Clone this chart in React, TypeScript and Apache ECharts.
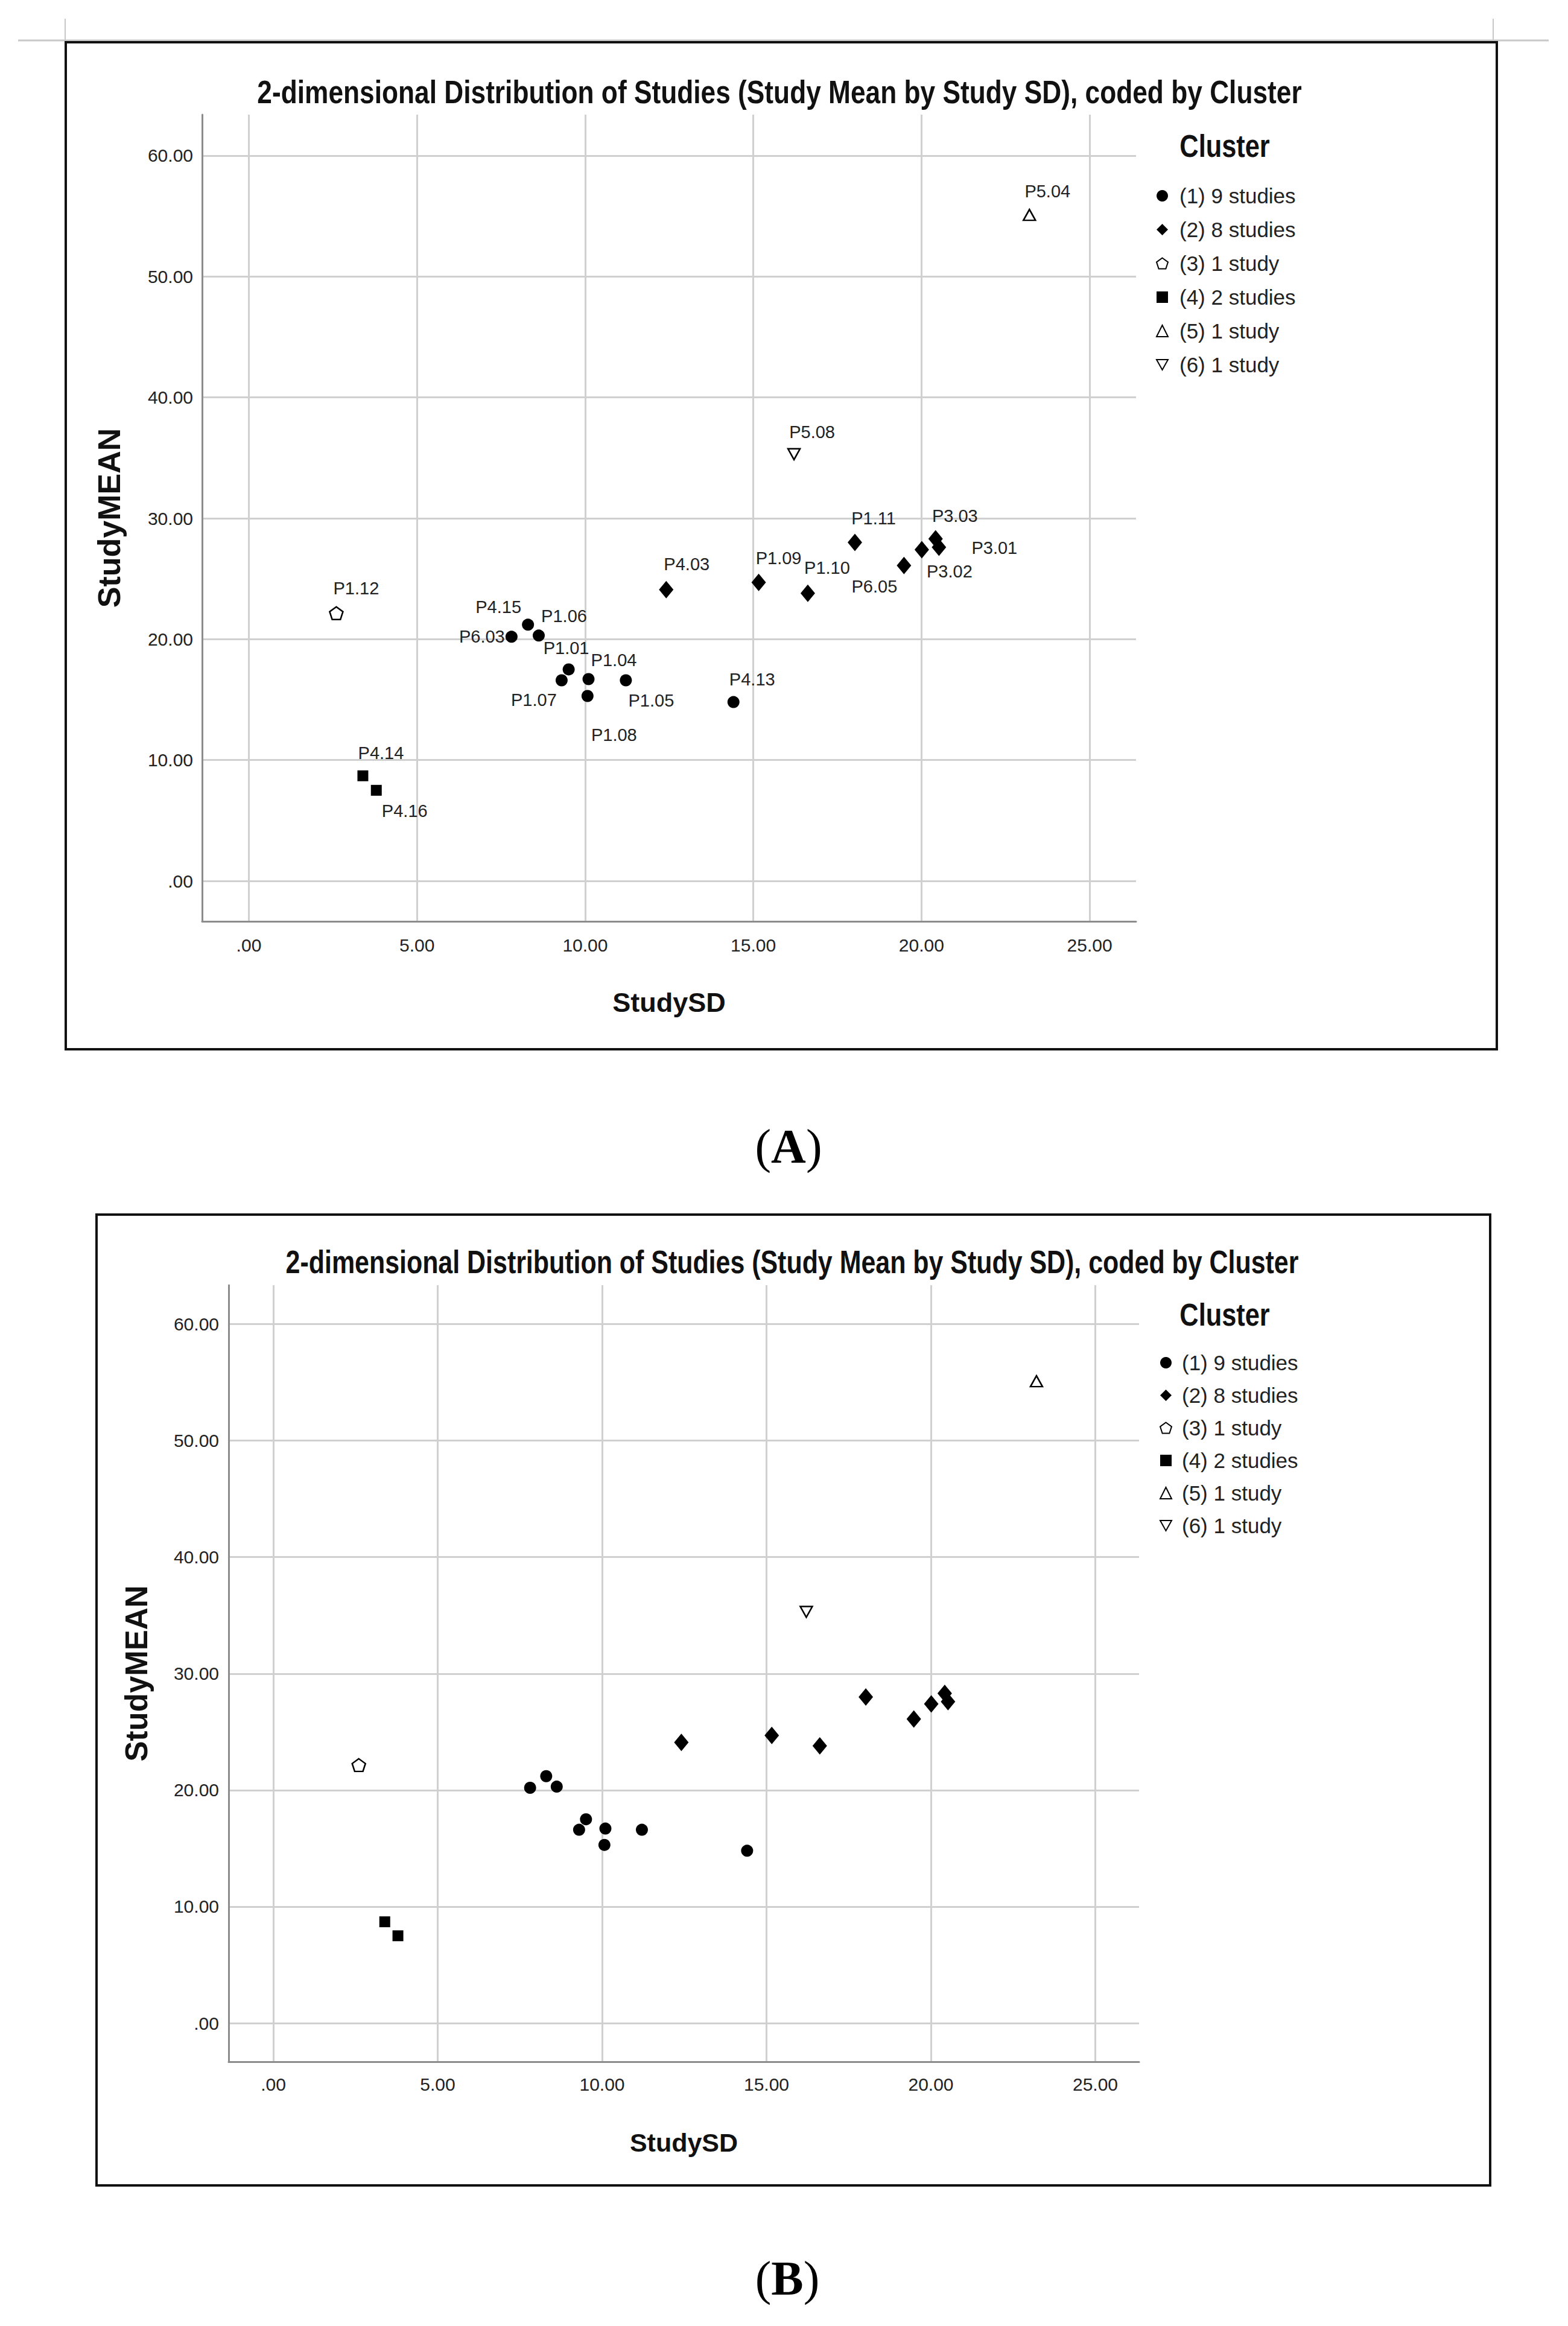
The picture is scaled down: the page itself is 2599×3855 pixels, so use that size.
import React, { useEffect, useRef } from 'react';
import * as echarts from 'echarts';

// ---------------- data ----------------
const clusterNames = ['(1) 9 studies', '(2) 8 studies', '(3) 1 study', '(4) 2 studies', '(5) 1 study', '(6) 1 study'];

const c1Ids = ['P1.01', 'P1.04', 'P1.05', 'P1.06', 'P1.07', 'P1.08', 'P4.13', 'P4.15', 'P6.03'];
const c1SD = [9.51, 10.1, 11.21, 8.62, 9.3, 10.07, 14.41, 8.3, 7.81];
const c1Mean = [17.5, 16.7, 16.6, 20.3, 16.6, 15.3, 14.8, 21.2, 20.2];

const c2Ids = ['P1.09', 'P1.10', 'P1.11', 'P3.01', 'P3.02', 'P3.03', 'P4.03', 'P6.05'];
const c2SD = [15.16, 16.62, 18.02, 20.52, 20.01, 20.42, 12.41, 19.48];
const c2Mean = [24.7, 23.8, 28.0, 27.6, 27.4, 28.3, 24.1, 26.1];

const c3Ids = ['P1.12'];
const c3SD = [2.6];
const c3Mean = [22.15];

const c4Ids = ['P4.14', 'P4.16'];
const c4SD = [3.39, 3.79];
const c4Mean = [8.7, 7.5];

const c5Ids = ['P5.04'];
const c5SD = [23.21];
const c5Mean = [55.1];

const c6Ids = ['P5.08'];
const c6SD = [16.21];
const c6Mean = [35.3];

const xTicks = [0, 5, 10, 15, 20, 25];
const yTicks = [0, 10, 20, 30, 40, 50, 60];

const titleText = '2-dimensional Distribution of Studies (Study Mean by Study SD), coded by Cluster';
const xName = 'StudySD';
const yName = 'StudyMEAN';
const legendTitle = 'Cluster';

// label placement (pixel offsets from point centre) - layout only
const labelOffsets: Record<string, [number, number]> = {
  'P1.01': [-4, -35], 'P1.04': [42, -31], 'P1.05': [42, 34], 'P1.06': [42, -32], 'P1.07': [-46, 33],
  'P1.08': [44, 64], 'P4.13': [31, -38], 'P4.15': [-49, -29], 'P6.03': [-49, 0],
  'P1.09': [33, -40], 'P1.10': [32, -42], 'P1.11': [31, -40], 'P3.01': [92, 1], 'P3.02': [46, 36],
  'P3.03': [32, -38], 'P4.03': [34, -42], 'P6.05': [-49, 35],
  'P1.12': [33, -41], 'P4.14': [30, -38], 'P4.16': [47, 34], 'P5.04': [30, -39], 'P5.08': [30, -37],
};

const clusters = [
  { ids: c1Ids, sd: c1SD, mean: c1Mean },
  { ids: c2Ids, sd: c2SD, mean: c2Mean },
  { ids: c3Ids, sd: c3SD, mean: c3Mean },
  { ids: c4Ids, sd: c4SD, mean: c4Mean },
  { ids: c5Ids, sd: c5SD, mean: c5Mean },
  { ids: c6Ids, sd: c6SD, mean: c6Mean },
];

// ---------------- styles ----------------
const SANS = "'Liberation Sans', Arial, sans-serif";
const SERIF = "'Liberation Serif', 'Times New Roman', serif";
const PENTAGON = 'path://M50,0 L97.6,34.5 L79.4,90.5 L20.6,90.5 L2.4,34.5 Z';
const TRI_DOWN = 'path://M0,0 L20,0 L10,18 Z';
const open = { color: '#ffffff', borderColor: '#000000', borderWidth: 2.5, opacity: 1 };
const solid = { color: '#000000', opacity: 1 };
const symbolStyles: any[] = [
  { symbol: 'circle', symbolSize: 20, itemStyle: solid },
  { symbol: 'diamond', symbolSize: [24, 29], itemStyle: solid },
  { symbol: PENTAGON, symbolSize: [22, 21], itemStyle: open },
  { symbol: 'rect', symbolSize: 18, itemStyle: solid },
  { symbol: 'triangle', symbolSize: [20, 18], itemStyle: open },
  { symbol: TRI_DOWN, symbolSize: [20, 18], itemStyle: open },
];

const fmt = (v: number) => (v === 0 ? '.00' : v.toFixed(2));

interface PanelCfg {
  idx: number;
  left: number; top: number; width: number; height: number;
  xMin: number; xMax: number; yMin: number; yMax: number;
  xLabelMargin: number; yLabelMargin: number;
  xNameGap: number; yNameGap: number;
  xNameSize: number; yNameSize: number;
  legendLeft: number; legendTop: number; legendGap: number; legendPad: number;
  showLabels: boolean;
}

function buildPanel(c: PanelCfg) {
  const grid = { left: c.left, top: c.top, width: c.width, height: c.height, containLabel: false };
  const xAxis = {
    gridIndex: c.idx, type: 'value', min: c.xMin, max: c.xMax,
    axisLine: { show: true, onZero: false, lineStyle: { color: '#8c8c8c', width: 3 } },
    axisTick: { show: false, customValues: xTicks },
    axisLabel: { customValues: xTicks, formatter: fmt, fontSize: 30, color: '#222', margin: c.xLabelMargin, fontFamily: SANS },
    splitLine: { show: true, lineStyle: { color: '#d0d0d0', width: 3 } },
    name: xName, nameLocation: 'middle', nameGap: c.xNameGap,
    nameTextStyle: { fontSize: c.xNameSize, fontWeight: 'bold', color: '#111', fontFamily: SANS },
  };
  const yAxis = {
    gridIndex: c.idx, type: 'value', min: c.yMin, max: c.yMax,
    axisLine: { show: true, onZero: false, lineStyle: { color: '#8c8c8c', width: 3 } },
    axisTick: { show: false, customValues: yTicks },
    axisLabel: { customValues: yTicks, formatter: fmt, fontSize: 30, color: '#222', margin: c.yLabelMargin, fontFamily: SANS },
    splitLine: { show: true, lineStyle: { color: '#d0d0d0', width: 3 } },
    name: yName, nameLocation: 'middle', nameGap: c.yNameGap, nameRotate: 90,
    nameTextStyle: { fontSize: c.yNameSize, fontWeight: 'bold', color: '#111', fontFamily: SANS },
  };
  const series = clusters.map((cl, k) => ({
    type: 'scatter',
    name: clusterNames[k],
    xAxisIndex: c.idx, yAxisIndex: c.idx,
    ...symbolStyles[k],
    data: cl.ids.map((id, i) => ({
      name: id,
      value: [cl.sd[i], cl.mean[i]],
      label: c.showLabels ? { show: true, position: 'inside', offset: labelOffsets[id] || [0, -30] } : { show: false },
    })),
    label: {
      show: c.showLabels, position: 'inside', formatter: (p: any) => p.name,
      fontSize: 29, color: '#222', fontFamily: SANS,
    },
    emphasis: { disabled: true },
    z: 5,
  }));
  const legend = {
    orient: 'vertical', left: c.legendLeft, top: c.legendTop,
    itemWidth: 19, itemHeight: 19, itemGap: c.legendGap,
    data: clusterNames, selectedMode: false,
    textStyle: { fontSize: 35, color: '#222', fontFamily: SANS, lineHeight: 35, padding: [0, 0, 0, c.legendPad] },
  };
  return { grid, xAxis, yAxis, series, legend };
}

export default function App() {
  const ref = useRef<HTMLDivElement>(null);
  useEffect(() => {
    if (!ref.current) return;
    const chart = echarts.init(ref.current, undefined, { renderer: 'svg' });
    const A = buildPanel({
      idx: 0, left: 335, top: 190, width: 1548, height: 1337,
      xMin: -1.39, xMax: 26.38, yMin: -3.34, yMax: 63.39,
      xLabelMargin: 24, yLabelMargin: 15, xNameGap: 112, yNameGap: 128,
      xNameSize: 45, yNameSize: 52,
      legendLeft: 1911, legendTop: 302, legendGap: 21, legendPad: 14, showLabels: true,
    });
    const B = buildPanel({
      idx: 1, left: 379, top: 2130, width: 1509, height: 1287,
      xMin: -1.358, xMax: 26.33, yMin: -3.31, yMax: 63.34,
      xLabelMargin: 22, yLabelMargin: 16, xNameGap: 112, yNameGap: 127,
      xNameSize: 43, yNameSize: 51,
      legendLeft: 1917, legendTop: 2236, legendGap: 19, legendPad: 12, showLabels: false,
    });
    const titleEl = (x: number, y: number, size: number, sx: number) => ({
      type: 'text', x, y, scaleX: sx, silent: true,
      style: { text: titleText, fontSize: size, fontWeight: 'bold', fontFamily: SANS, fill: '#111', align: 'center', verticalAlign: 'middle' },
    });
    const clusterEl = (x: number, y: number) => ({
      type: 'text', x, y, scaleX: 0.85, silent: true,
      style: { text: legendTitle, fontSize: 51, fontWeight: 'bold', fontFamily: SANS, fill: '#111', align: 'center', verticalAlign: 'middle' },
    });
    const panelLabel = (x: number, y: number, letter: string) => ({
      type: 'text', x, y, silent: true,
      style: {
        text: '{p|(}{b|' + letter + '}{p|)}', align: 'center', verticalAlign: 'middle',
        rich: {
          p: { fontSize: 80, fontFamily: SERIF, fill: '#000' },
          b: { fontSize: 80, fontFamily: SERIF, fontWeight: 'bold', fill: '#000' },
        },
      },
    });
    const option: any = {
      animation: false,
      backgroundColor: '#ffffff',
      grid: [A.grid, B.grid],
      xAxis: [A.xAxis, B.xAxis],
      yAxis: [A.yAxis, B.yAxis],
      legend: [A.legend, B.legend],
      series: [...A.series, ...B.series],
      graphic: [
        // page crop marks
        { type: 'line', silent: true, shape: { x1: 30, y1: 67, x2: 2567, y2: 67 }, style: { stroke: '#c8c8c8', lineWidth: 3 } },
        { type: 'line', silent: true, shape: { x1: 108, y1: 31, x2: 108, y2: 67 }, style: { stroke: '#c8c8c8', lineWidth: 2 } },
        { type: 'line', silent: true, shape: { x1: 2475, y1: 31, x2: 2475, y2: 67 }, style: { stroke: '#c8c8c8', lineWidth: 2 } },
        // frames
        { type: 'rect', silent: true, shape: { x: 109, y: 70, width: 2372, height: 1669 }, style: { fill: 'none', stroke: '#111', lineWidth: 4 } },
        { type: 'rect', silent: true, shape: { x: 160, y: 2013, width: 2310, height: 1609 }, style: { fill: 'none', stroke: '#111', lineWidth: 4 } },
        titleEl(1292, 152, 54, 0.82),
        titleEl(1313, 2091, 53, 0.81),
        clusterEl(2030, 242),
        clusterEl(2030, 2179),
        panelLabel(1307, 1900, 'A'),
        panelLabel(1305, 3776, 'B'),
      ],
    };
    chart.setOption(option);
    return () => chart.dispose();
  }, []);
  return (
    <div
      ref={ref}
      style={{ position: 'absolute', left: 0, top: 0, width: 2599, height: 3855, background: '#fff' }}
    />
  );
}
